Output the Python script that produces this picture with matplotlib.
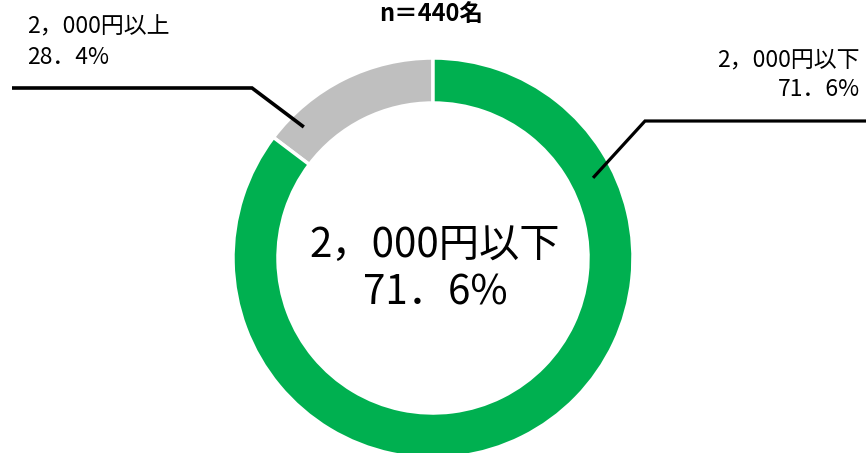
import matplotlib

matplotlib.use("Agg")
import matplotlib.pyplot as plt
import numpy as np

plt.rcParams["font.family"] = ["Noto Sans CJK JP", "DejaVu Sans"]

# data
categories = ["2，000円以上", "2，000円以下"]
label_pct = ["28．4%", "71．6%"]        # as printed on the chart
arc_share = [14.7, 85.3]               # arc extents as drawn in the picture
colors = ["#BFBFBF", "#00B050"]
title = "n＝440名"

W, H = 866, 453
CX, CY, R = 433, 195, 200

fig = plt.figure(figsize=(W / 100, H / 100), dpi=100)
ax = fig.add_axes([0, 0, 1, 1])
ax.pie(arc_share, colors=colors, startangle=90, counterclock=True,
       radius=R, center=(CX, CY),
       wedgeprops=dict(width=45, edgecolor="white", linewidth=2.5))
ax.set_xlim(0, W)
ax.set_ylim(0, H)
ax.set_aspect("equal")
ax.axis("off")


def anchor(angle_deg, r):
    a = np.deg2rad(angle_deg)
    return CX + r * np.cos(a), CY + r * np.sin(a)


# leader lines: anchor on ring -> elbow -> horizontal run
ax_, ay_ = anchor(134.6, 184)
ax.plot([ax_, 252, 12], [ay_, 365, 365], color="black", lw=2.6,
        solid_capstyle="butt", solid_joinstyle="miter")
bx_, by_ = anchor(26.6, 179)
ax.plot([bx_, 645, W], [by_, 332, 332], color="black", lw=2.3,
        solid_capstyle="butt", solid_joinstyle="miter")

# outside labels
ax.text(27, 426, categories[0], ha="left", va="center", fontsize=16.5)
ax.text(27, 395, label_pct[0], ha="left", va="center", fontsize=16.5)
ax.text(860, 393, categories[1], ha="right", va="center", fontsize=16.5)
ax.text(860, 364, label_pct[1], ha="right", va="center", fontsize=16.5)

# centre label
ax.text(435, 208, categories[1], ha="center", va="center", fontsize=29)
ax.text(435, 160, label_pct[1], ha="center", va="center", fontsize=29)

ax.text(431, 439, title, ha="center", va="center", fontsize=17,
        fontweight="bold")

fig.savefig("out.png", dpi=100)
